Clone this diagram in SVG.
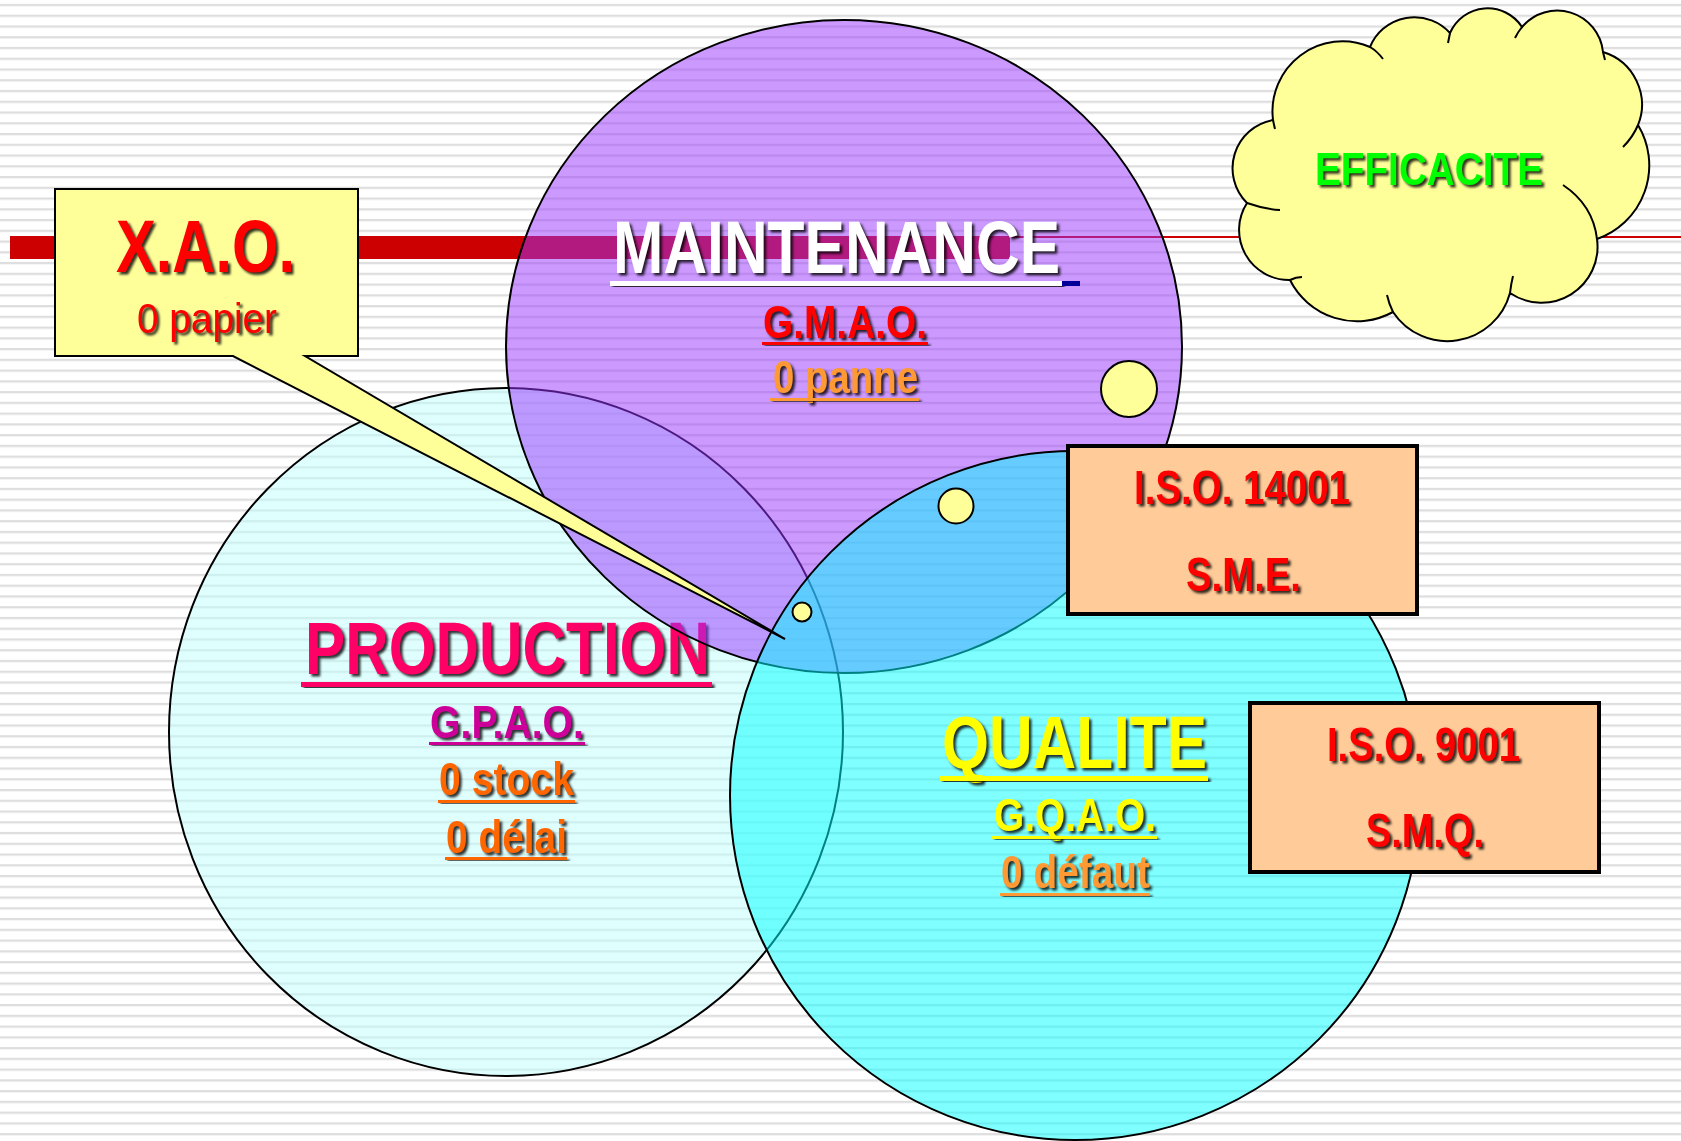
<svg xmlns="http://www.w3.org/2000/svg" width="1681" height="1141" viewBox="0 0 1681 1141">
<defs>
<pattern id="stripes" patternUnits="userSpaceOnUse" x="0" y="0" width="40" height="10.754"><rect x="0" y="3.9" width="40" height="2.3" fill="#dedede"/></pattern>
<filter id="sh" color-interpolation-filters="sRGB"><feDropShadow dx="2.5" dy="2.5" stdDeviation="0.9" flood-color="#000" flood-opacity="0.8"/></filter>
</defs>
<style>
.t{font-family:"Liberation Sans Narrow","Liberation Sans",Arial,sans-serif;font-weight:bold;text-anchor:middle;filter:url(#sh)}
.n{font-weight:normal}
.u{filter:url(#sh)}
.big{font-size:74px}
.mid{font-size:46px}
.iso{font-size:48px;fill:#ff0000}
.dot{fill:#ffff99;stroke:#000;stroke-width:2}
.box{fill:#ffcc99;stroke:#000;stroke-width:4}
</style>
<g id="background">
<rect width="1681" height="1141" fill="#ffffff"/>
<rect width="1681" height="1141" fill="url(#stripes)"/>
</g>
<g id="title-bar" fill="#cc0000">
<rect x="10" y="236" width="1000" height="23"/>
<rect x="1000" y="236" width="681" height="2"/>
</g>
<g id="node-production">
<ellipse cx="506" cy="732" rx="337" ry="344" fill="#c0ffff" fill-opacity="0.5" stroke="#000" stroke-width="2"/>
<text class="t big" x="507.5" y="674" textLength="405" lengthAdjust="spacingAndGlyphs" font-size="73" fill="#ff0066">PRODUCTION</text>
<rect class="u" x="301" y="682" width="411" height="5" fill="#ff0066"/>
<text class="t mid" x="507" y="738" textLength="154" lengthAdjust="spacingAndGlyphs" fill="#cc0099">G.P.A.O.</text>
<rect class="u" x="429" y="742" width="156" height="3" fill="#cc0099"/>
<text class="t mid" x="506.5" y="795" textLength="135" lengthAdjust="spacingAndGlyphs" fill="#ff6600">0 stock</text>
<rect class="u" x="438" y="800" width="137" height="3" fill="#ff6600"/>
<text class="t mid" x="506.5" y="853" textLength="121" lengthAdjust="spacingAndGlyphs" fill="#ff6600">0 délai</text>
<rect class="u" x="445" y="857" width="122" height="3" fill="#ff6600"/>
</g>
<g id="node-maintenance">
<ellipse cx="844" cy="346.5" rx="338" ry="326.5" fill="#9933ff" fill-opacity="0.5" stroke="#000" stroke-width="2"/>
<text class="t big" x="836.5" y="273" textLength="447" lengthAdjust="spacingAndGlyphs" fill="#ffffff">MAINTENANCE</text>
<rect class="u" x="610" y="281" width="452" height="5" fill="#ffffff"/>
<rect x="1062" y="281" width="18" height="5" fill="#000099"/>
<text class="t mid" x="845" y="338" textLength="164" lengthAdjust="spacingAndGlyphs" fill="#ff0000">G.M.A.O.</text>
<rect class="u" x="762" y="342" width="166" height="3" fill="#ff0000"/>
<text class="t mid" x="845.5" y="393" textLength="145" lengthAdjust="spacingAndGlyphs" fill="#ff9933">0 panne</text>
<rect class="u" x="770" y="398" width="149" height="3" fill="#ff9933"/>
</g>
<g id="node-qualite">
<ellipse cx="1075" cy="795.5" rx="345" ry="344.5" fill="#00ffff" fill-opacity="0.5" stroke="#000" stroke-width="2"/>
<text class="t big" x="1074.5" y="768" textLength="265" lengthAdjust="spacingAndGlyphs" fill="#ffff00">QUALITE</text>
<rect class="u" x="940" y="776" width="268" height="5" fill="#ffff00"/>
<text class="t mid" x="1075" y="831" textLength="162" lengthAdjust="spacingAndGlyphs" font-size="47" fill="#ffff00">G.Q.A.O.</text>
<rect class="u" x="992" y="836" width="165" height="3" fill="#ffff00"/>
<text class="t mid" x="1075.5" y="888" textLength="149" lengthAdjust="spacingAndGlyphs" fill="#ff9933">0 défaut</text>
<rect class="u" x="1000" y="893" width="150" height="3" fill="#ff9933"/>
</g>
<g id="node-bubbles">
<circle class="dot" cx="1129" cy="389" r="28"/>
<circle class="dot" cx="956" cy="506" r="17.5"/>
<circle class="dot" cx="802" cy="612" r="9.5"/>
</g>
<g id="node-xao">
<path d="M55,189 H358 V356 H305 L785,639 L233,356 H55 Z" fill="#ffff99" stroke="#000" stroke-width="2" stroke-linejoin="miter"/>
<text class="t big" x="205.5" y="272" textLength="179" lengthAdjust="spacingAndGlyphs" fill="#ff0000">X.A.O.</text>
<text class="t n" x="207" y="333" font-size="43" textLength="140" lengthAdjust="spacingAndGlyphs" fill="#ff0000">0 papier</text>
</g>
<g id="node-iso14001">
<rect class="box" x="1068" y="446" width="349" height="168"/>
<text class="t iso" x="1242" y="504" textLength="216" lengthAdjust="spacingAndGlyphs">I.S.O. 14001</text>
<text class="t iso" x="1243.5" y="591" textLength="115" lengthAdjust="spacingAndGlyphs" font-size="47">S.M.E.</text>
</g>
<g id="node-iso9001">
<rect class="box" x="1250" y="703" width="349" height="169"/>
<text class="t iso" x="1423.5" y="761" textLength="193" lengthAdjust="spacingAndGlyphs" font-size="47">I.S.O. 9001</text>
<text class="t iso" x="1425" y="847" textLength="118" lengthAdjust="spacingAndGlyphs" font-size="47">S.M.Q.</text>
</g>
<g id="node-efficacite">
<path d="M1247,203 A49,49 0 0 1 1273,120 A70,70 0 0 1 1370,47 A48,48 0 0 1 1450,33 A41,41 0 0 1 1522,27 A46,46 0 0 1 1603,52 A55,55 0 0 1 1638,125 A78,78 0 0 1 1597,239 A56,56 0 0 1 1510,293 A65,65 0 0 1 1393,312 A75,75 0 0 1 1290,280 A50,50 0 0 1 1247,203 Z" fill="#ffff99" stroke="#000" stroke-width="2"/>
<path d="M1273,120 q1,5 2,9 M1370,47 q7,4 13,12 M1450,33 q-1,5 -2,10 M1522,27 q-4,5 -7,11 M1603,52 q1,4 2,8 M1638,125 q-5,12 -15,22 M1563,185 Q1593,205 1597,239 M1510,293 q1,-9 3,-17 M1393,312 q-4,-8 -6,-17 M1290,280 q6,-3 12,-3 M1247,203 q17,6 33,7" fill="none" stroke="#000" stroke-width="2"/>
<text class="t mid" x="1429" y="185" textLength="228" lengthAdjust="spacingAndGlyphs" fill="#00ff00">EFFICACITE</text>
</g>
</svg>
